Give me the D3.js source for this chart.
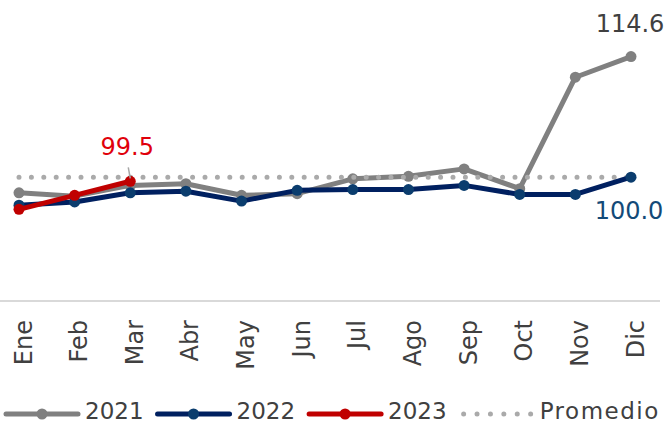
<!DOCTYPE html>
<html>
<head>
<meta charset="utf-8">
<script src="https://cdn.jsdelivr.net/npm/d3@7"></script>
<style>
  body { margin: 0; background: #fff; }
  text { font-family: "DejaVu Sans", sans-serif; }
</style>
</head>
<body>
<div id="chart"></div>
<script>
// data
var months = ["Ene", "Feb", "Mar", "Abr", "May", "Jun", "Jul", "Ago", "Sep", "Oct", "Nov", "Dic"];
var v2021 = [98.1, 97.7, 99.0, 99.2, 97.8, 98.0, 99.8, 100.1, 101.0, 98.6, 112.1, 114.6];
var v2022 = [96.6, 97.0, 98.1, 98.3, 97.1, 98.4, 98.5, 98.5, 99.0, 97.9, 97.9, 100.0];
var v2023 = [96.1, 97.8, 99.5];
var promedio = 100.0;

var width = 669, height = 425;

var svg = d3.select("#chart").append("svg")
	.attr("width", width)
	.attr("height", height);

var x = d3.scalePoint().domain(months).range([19, 631]);
var y = d3.scaleLinear().domain([85, 120]).range([301, 12]);

// baseline
svg.append("line")
	.attr("x1", 0).attr("x2", 660)
	.attr("y1", y(85)).attr("y2", y(85))
	.attr("stroke", "#d9d9d9")
	.attr("stroke-width", 2);

// month labels
var xAxis = svg.append("g")
	.attr("transform", "translate(0," + y(85) + ")")
	.call(d3.axisBottom(x).tickSize(0));
xAxis.select(".domain").remove();
xAxis.selectAll("text")
	.attr("transform", "rotate(-90)")
	.attr("text-anchor", "end")
	.attr("x", -19)
	.attr("y", 0)
	.attr("dy", "0.5em")
	.attr("fill", "#404040")
	.style("font-size", "24px")
	.style("font-family", "'DejaVu Sans', sans-serif");

var line = d3.line()
	.x(function(d, i) { return x(months[i]); })
	.y(function(d) { return y(d); });

function series(vals, lineCol, dotCol) {
	var g = svg.append("g");
	g.append("path")
		.datum(vals)
		.attr("d", line)
		.attr("fill", "none")
		.attr("stroke", lineCol)
		.attr("stroke-width", 5)
		.attr("stroke-linejoin", "round");
	g.selectAll("circle")
		.data(vals)
		.enter()
		.append("circle")
		.attr("cx", function(d, i) { return x(months[i]); })
		.attr("cy", function(d) { return y(d); })
		.attr("r", 5.5)
		.attr("fill", dotCol);
}

series(v2021, "#808080", "#808080");

// average, dotted
svg.append("line")
	.attr("x1", x("Ene")).attr("x2", x("Dic"))
	.attr("y1", y(promedio)).attr("y2", y(promedio))
	.attr("stroke", "#aaaaaa")
	.attr("stroke-width", 5)
	.attr("stroke-linecap", "round")
	.attr("stroke-dasharray", "0 12.4");

series(v2022, "#002060", "#0b3d6e");
series(v2023, "#c00000", "#c00000");

// value labels
svg.append("line")
	.attr("x1", x("Mar") - 2).attr("y1", y(99.5) - 14)
	.attr("x2", x("Mar")).attr("y2", y(99.5) - 3)
	.attr("stroke", "#a6a6a6")
	.attr("stroke-width", 1.5);

svg.append("text")
	.attr("x", x("Mar") - 3).attr("y", 155)
	.attr("text-anchor", "middle")
	.attr("fill", "#e0000b")
	.style("font-size", "24px")
	.text(d3.format(".1f")(v2023[2]));

svg.append("text")
	.attr("x", x("Dic") - 2).attr("y", 219)
	.attr("text-anchor", "middle")
	.attr("fill", "#134a78")
	.style("font-size", "24px")
	.text(d3.format(".1f")(v2022[11]));

svg.append("text")
	.attr("x", x("Dic") - 1).attr("y", 32)
	.attr("text-anchor", "middle")
	.attr("fill", "#404040")
	.style("font-size", "24px")
	.text(d3.format(".1f")(v2021[11]));

// legend
var legendItems = [
	{ name: "2021", line: "#808080", dot: "#808080" },
	{ name: "2022", line: "#002060", dot: "#0b3d6e" },
	{ name: "2023", line: "#c00000", dot: "#c00000" },
	{ name: "Promedio", dotted: true }
];

var legend = svg.append("g");
var lx = 6, ly = 414;
legendItems.forEach(function(item) {
	if (item.dotted) {
		legend.append("line")
			.attr("x1", lx + 3).attr("x2", lx + 70)
			.attr("y1", ly).attr("y2", ly)
			.attr("stroke", "#aaaaaa")
			.attr("stroke-width", 5)
			.attr("stroke-linecap", "round")
			.attr("stroke-dasharray", "0 13.4");
	} else {
		legend.append("line")
			.attr("x1", lx).attr("x2", lx + 72)
			.attr("y1", ly).attr("y2", ly)
			.attr("stroke", item.line)
			.attr("stroke-width", 5)
			.attr("stroke-linecap", "round");
		legend.append("circle")
			.attr("cx", lx + 36).attr("cy", ly)
			.attr("r", 5.5)
			.attr("fill", item.dot);
	}
	var t = legend.append("text")
		.attr("x", lx + 79).attr("y", 419)
		.attr("fill", "#404040")
		.style("font-size", "23px")
		.style("letter-spacing", item.dotted ? "1.5px" : "0px")
		.text(item.name);
	lx = lx + 79 + t.node().getComputedTextLength() + 14;
});
</script>
</body>
</html>
